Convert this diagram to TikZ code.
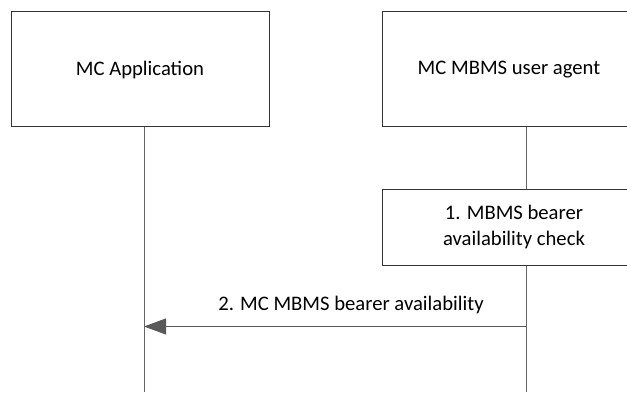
\documentclass[tikz,border=0pt]{standalone}
\usepackage{fontspec}
\setmainfont{Carlito}
\usepackage{tikz}
\usetikzlibrary{arrows.meta}

\begin{document}
\begin{tikzpicture}[x=0.75pt,y=-0.75pt]
    \tikzstyle{entity}=[
      draw=black!80,
      line width=0.75pt,
      anchor=center,
      align=center,
      font=\fontsize{15.5}{20}\selectfont,
    ]
    \tikzstyle{action}=[
      entity,
    ]
    \tikzstyle{life} = [line width=0.75pt,draw=black!60]
    \tikzstyle{msg}  = [line width=0.75pt,draw=black!65,-{Triangle[length=16.5pt,width=12pt]}]
    \tikzstyle{label}=[font=\fontsize{15.5}{20}\selectfont,anchor=center]

    \clip (0,0) rectangle (627,392);

    % entities
    {
      \node[entity, minimum width=258*0.75pt, minimum height=115*0.75pt] (app) at (140,69.5) {MC Application};
      \node[entity, minimum width=254*0.75pt, minimum height=115*0.75pt] (agent) at (509,69.5) {MC MBMS user agent};
    }

    % lifelines
    {
      \coordinate (appTop) at (144,127);
      \coordinate (appEnd) at (144,392);
      \coordinate (agentTop) at (526,127);
      \coordinate (agentEnd) at (526,392);

      \node[action, minimum width=264*0.75pt, minimum height=76*0.75pt] (check) at (514,227) {1. MBMS bearer\\availability check};

      \coordinate (checkTop) at (check.north -| agentTop);
      \coordinate (checkBot) at (check.south -| agentTop);

      \draw[life] (appTop)--(appEnd);
      \draw[life] (agentTop)--(checkTop);
      \draw[life] (checkBot)--(agentEnd);
    }

    % message
    {
      \coordinate (msgFrom) at (526,326.5);
      \coordinate (msgTo) at (144,326.5);
      \draw[msg] (msgFrom)--(msgTo);
      \node[label] (msgText) at (351,305) {2. MC MBMS bearer availability};
    }
\end{tikzpicture}
\end{document}
